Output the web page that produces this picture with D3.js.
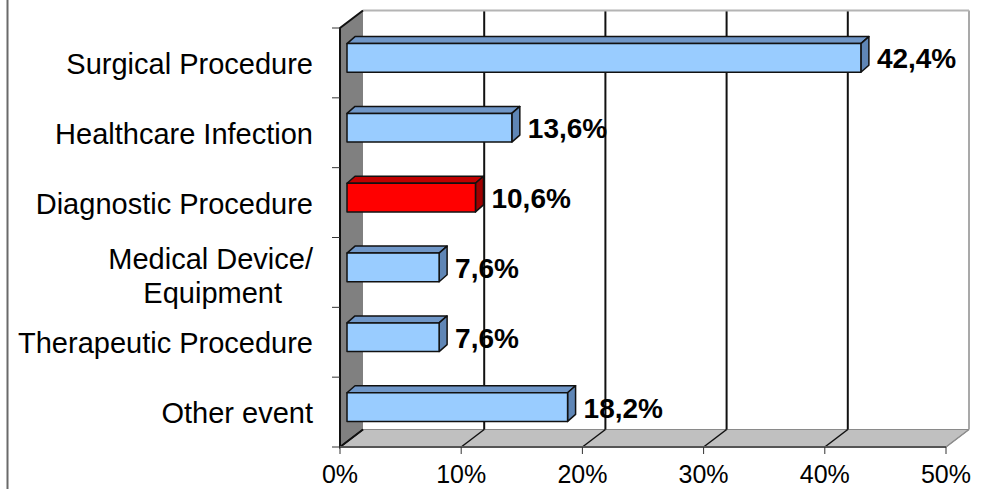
<!DOCTYPE html>
<html>
<head>
<meta charset="utf-8">
<script src="https://cdn.jsdelivr.net/npm/d3@7"></script>
<style>
  html, body { margin: 0; padding: 0; background: #fff; }
  svg { display: block; font-family: "Liberation Sans", Arial, sans-serif; }
</style>
</head>
<body>
<svg id="chart" width="981" height="489"></svg>
<script>
// Adverse event categories (top to bottom) and their shares in percent
const categories = [
  ["Surgical Procedure"],
  ["Healthcare Infection"],
  ["Diagnostic Procedure"],
  ["Medical Device/", "Equipment"],
  ["Therapeutic Procedure"],
  ["Other event"]
];
const values = [42.4, 13.6, 10.6, 7.6, 7.6, 18.2];
const highlighted = [false, false, true, false, false, false];
const xTicks = [0, 10, 20, 30, 40, 50];

const svg = d3.select("#chart");

// Front plane of the 3D box and the depth vector of the box
const front = { left: 340, right: 946, top: 28, bottom: 447 };
const depth = { x: 23, y: -17.5 };
// Bars sit inside the depth: front face offset and thickness
const barOff = { x: 7, y: -5 };
const barDepth = { x: 8, y: -7 };

const x = d3.scaleLinear().domain([0, 50]).range([front.left, front.right]);
const keys = categories.map((c, i) => i);
const y = d3.scaleBand().domain(keys).range([front.top, front.bottom])
  .paddingInner(0.59).paddingOuter(0.295);
const yStep = d3.scaleBand().domain(keys).range([front.top, front.bottom]);

const poly = pts => pts.map(p => p.join(",")).join(" ");

// Frame line on the far left
svg.append("line").attr("x1", 7.5).attr("x2", 7.5).attr("y1", 0).attr("y2", 489)
  .attr("stroke", "#6a6a6a").attr("stroke-width", 2);

const bx0 = x(0) + depth.x, by0 = front.top + depth.y, by1 = front.bottom + depth.y;

// Back wall
svg.append("rect").attr("x", bx0).attr("y", by0)
  .attr("width", x(50) - x(0)).attr("height", by1 - by0).attr("fill", "#fff");

// Floor
svg.append("polygon")
  .attr("points", poly([[x(0), front.bottom], [x(50), front.bottom],
    [x(50) + depth.x, by1], [bx0, by1]]))
  .attr("fill", "#c0c0c0").attr("stroke", "#8a8a8a").attr("stroke-width", 1);

// Left side wall
svg.append("polygon")
  .attr("points", poly([[x(0), front.top], [bx0, by0], [bx0, by1], [x(0), front.bottom]]))
  .attr("fill", "#808080");

// Gridlines on back wall continuing across the floor
xTicks.forEach(t => {
  const isEdge = t === 50;
  const col = isEdge ? "#8c8c8c" : "#111";
  if (t > 0) {
    svg.append("line")
      .attr("x1", x(t) + depth.x).attr("x2", x(t) + depth.x)
      .attr("y1", by0).attr("y2", by1)
      .attr("stroke", col).attr("stroke-width", isEdge ? 1.5 : 2);
  }
  svg.append("line")
    .attr("x1", x(t) + depth.x).attr("y1", by1)
    .attr("x2", x(t)).attr("y2", front.bottom)
    .attr("stroke", isEdge ? "#8c8c8c" : "#111").attr("stroke-width", 1.5);
});

// Top edge of back wall
svg.append("line").attr("x1", bx0).attr("x2", x(50) + depth.x)
  .attr("y1", by0).attr("y2", by0).attr("stroke", "#b4b4b4").attr("stroke-width", 2);

// Left wall outline
svg.append("polyline")
  .attr("points", poly([[bx0, by1], [x(0), front.bottom], [x(0), front.top], [bx0, by0]]))
  .attr("fill", "none").attr("stroke", "#111").attr("stroke-width", 2);

// Floor front edge
svg.append("line").attr("x1", x(0)).attr("x2", x(50))
  .attr("y1", front.bottom).attr("y2", front.bottom)
  .attr("stroke", "#555").attr("stroke-width", 2);

// Category axis ticks
d3.range(categories.length + 1).forEach(i => {
  const ty = front.top + i * yStep.step();
  svg.append("line").attr("x1", x(0) - 8).attr("x2", x(0))
    .attr("y1", ty).attr("y2", ty).attr("stroke", "#333").attr("stroke-width", 1);
});

// Value axis ticks and labels
const xAxis = svg.append("g");
xTicks.forEach(t => {
  xAxis.append("line").attr("x1", x(t)).attr("x2", x(t))
    .attr("y1", front.bottom).attr("y2", front.bottom + 7)
    .attr("stroke", "#333").attr("stroke-width", 1);
  xAxis.append("text").attr("x", x(t)).attr("y", 483)
    .attr("text-anchor", "middle").attr("font-size", 25).attr("fill", "#000")
    .text(t + "%");
});

// Category labels
categories.forEach((lines, i) => {
  const cy = yStep(i) + yStep.bandwidth() / 2;
  const t = svg.append("text").attr("text-anchor", "end").attr("font-size", 29)
    .attr("fill", "#000");
  if (lines.length === 1) {
    t.append("tspan").attr("x", 313).attr("y", cy + 11).text(lines[0]);
  } else {
    t.append("tspan").attr("x", 313).attr("y", cy - 3).text(lines[0]);
    t.append("tspan").attr("x", 282).attr("y", cy + 31).text(lines[1]);
  }
});

// 3D bars
const fmt = v => d3.format(".1f")(v).replace(".", ",") + "%";
values.forEach((v, i) => {
  const y0 = y(i) + barOff.y, h = y.bandwidth();
  const xl = x(0) + barOff.x, xr = x(v) + barOff.x;
  const red = highlighted[i];
  const cFront = red ? "#ff0000" : "#99ccff";
  const cTop = red ? "#c00000" : "#7097c8";
  const cSide = red ? "#a00000" : "#5f86b6";
  const g = svg.append("g").attr("stroke", "#111").attr("stroke-width", 1.5)
    .attr("stroke-linejoin", "round");
  g.append("polygon").attr("points", poly([[xl, y0], [xr, y0],
    [xr + barDepth.x, y0 + barDepth.y], [xl + barDepth.x, y0 + barDepth.y]]))
    .attr("fill", cTop);
  g.append("polygon").attr("points", poly([[xr, y0], [xr + barDepth.x, y0 + barDepth.y],
    [xr + barDepth.x, y0 + h + barDepth.y], [xr, y0 + h]]))
    .attr("fill", cSide);
  g.append("rect").attr("x", xl).attr("y", y0).attr("width", xr - xl).attr("height", h)
    .attr("fill", cFront);

  svg.append("text").attr("x", xr + barDepth.x + 8).attr("y", y0 + h / 2 + 10.5)
    .attr("font-size", 28).attr("font-weight", "bold").attr("fill", "#000")
    .text(fmt(v));
});
</script>
</body>
</html>
